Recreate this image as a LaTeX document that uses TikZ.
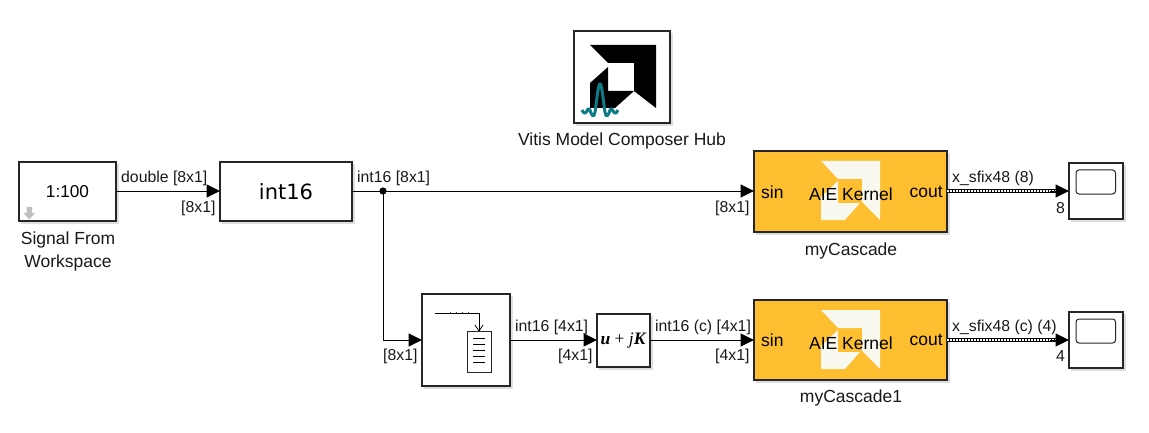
\documentclass[tikz,border=0pt]{standalone}
\usepackage{fontspec}
\setmainfont{Liberation Sans}
\newfontfamily\dejavu{DejaVu Sans}
\newfontfamily\lserif{Liberation Serif}
\usetikzlibrary{arrows.meta,calc}
\definecolor{aieorange}{HTML}{FDBE2F}
\definecolor{aiecream}{HTML}{F8F8EE}
\definecolor{teal1}{HTML}{0E7C86}
\definecolor{shadowgrey}{HTML}{C8C8C8}
\tikzset{
  x=1pt,y=-1pt,
  blockbox/.style={draw=black!85,line width=1.5pt,outer sep=0pt,fill=white,inner sep=0pt,anchor=north west,font=\fontsize{17.2}{19}\selectfont},
  aiebox/.style={blockbox,fill=aieorange},
  lbl/.style={font=\fontsize{15.8}{18}\selectfont,inner sep=0pt,text=black!90},
  biglbl/.style={font=\fontsize{17.5}{23}\selectfont,inner sep=0pt,text=black!90},
  wire/.style={line width=1pt,-{Triangle[length=13.5pt,width=13pt]}},
  busw/.style={line width=3.6pt,black},
  busd/.style={line width=1.4pt,white,dash pattern=on 1.5pt off 1.5pt},
  bustip/.style={-{Triangle[length=13.5pt,width=13pt]},line width=1pt}
}
\newcommand{\shadowrect}[4]{\fill[shadowgrey,opacity=.6] (#1+2,#2+2) rectangle (#3+3,#4+3);}
\newcommand{\aielogo}[2]{%
  \begin{scope}[shift={(#1,#2)}]
    \fill[aiecream] (0,0) -- (59,0) -- (59,59) -- (41,41) -- (41,18) -- (17,18) -- cycle;
    \fill[aiecream] (17,20) -- (17,42) -- (39,42) -- (24,59) -- (0,59) -- (0,36) -- cycle;
  \end{scope}}
\begin{document}
\begin{tikzpicture}
\useasboundingbox (0,0) rectangle (1149,433);
\fill[white] (0,0) rectangle (1149,433);
% shadows
\shadowrect{19}{162}{116}{221}
\shadowrect{220}{162}{352}{221}
\shadowrect{574}{31}{670}{123}
\shadowrect{754}{151}{947}{232}
\shadowrect{754}{300}{947}{380}
\shadowrect{1069}{163}{1123}{219}
\shadowrect{1069}{312}{1123}{368}
\shadowrect{422}{294}{510}{386}
\shadowrect{597}{314}{650}{367}
% blocks
\node[blockbox,minimum width=97pt,minimum height=59pt] (src) at (19,162) {};
\node[font=\fontsize{17.2}{19}\selectfont] (srct) at (67.5,192) {1:100};
\fill[black!25] (26.5,207) -- (32,207) -- (32,213) -- (35,213) -- (29.2,219.5) -- (23.5,213) -- (26.5,213) -- cycle;
\node[blockbox,minimum width=132pt,minimum height=59pt,font=\dejavu\fontsize{21}{23}\selectfont] (conv) at (220,162) {int16};
% hub
\node[blockbox,minimum width=96pt,minimum height=92pt] (hub) at (574,31) {};
\fill[black] (590,45) -- (656,45) -- (656,108) -- (634,91) -- (634,63) -- (608,63) -- cycle;
\fill[black] (608,67) -- (608,91) -- (634,91) -- (615,108) -- (590,108) -- (590,83) -- cycle;
\draw[teal1,line width=3pt,line join=round] (582,110) .. controls (584,114) and (585,114) .. (587,111) .. controls (588,108) and (589,108) .. (590,110) .. controls (592,117) and (594,118) .. (595,112) .. controls (597,100) and (598,84) .. (600,84) .. controls (602,84) and (603,100) .. (605,112) .. controls (606,118) and (608,117) .. (610,110) .. controls (611,108) and (612,108) .. (613,111) .. controls (615,114) and (616,114) .. (618,110);
\node[biglbl] (hubl) at (622,141) {Vitis Model Composer Hub};
% AIE
\node[aiebox,minimum width=193pt,minimum height=81pt] (aie1) at (754,151) {};
\aielogo{821}{161}
\node[font=\fontsize{17.5}{19}\selectfont] (aie1t) at (851,194) {AIE Kernel};
\node[font=\fontsize{17.5}{19}\selectfont,anchor=west,inner sep=0pt] (aie1s) at (761,192) {sin};
\node[font=\fontsize{17.5}{19}\selectfont,anchor=east,inner sep=0pt] (aie1c) at (943,192) {cout};
\node[aiebox,minimum width=193pt,minimum height=80pt] (aie2) at (754,300) {};
\aielogo{821}{310}
\node[font=\fontsize{17.5}{19}\selectfont] (aie2t) at (851,343) {AIE Kernel};
\node[font=\fontsize{17.5}{19}\selectfont,anchor=west,inner sep=0pt] (aie2s) at (761,340) {sin};
\node[font=\fontsize{17.5}{19}\selectfont,anchor=east,inner sep=0pt] (aie2c) at (943,340) {cout};
% scopes
\node[blockbox,minimum width=54pt,minimum height=56pt] (sc1) at (1069,163) {};
\draw[black!85,line width=1pt,rounded corners=3pt] (1076,170) rectangle (1115.5,194);
\node[blockbox,minimum width=54pt,minimum height=56pt] (sc2) at (1069,312) {};
\draw[black!85,line width=1pt,rounded corners=3pt] (1076,319) rectangle (1115.5,343);
% buffer
\node[blockbox,minimum width=88pt,minimum height=92pt] (buf) at (422,294) {};
\draw[black,line width=.8pt] (435,313) -- (479,313) -- (479,331);
\draw[black,line width=.8pt] (475,325) -- (479,331) -- (483,325);
\draw[black!70,line width=.6pt] (450,311.5) -- (450,313) (456,311.5) -- (456,313) (462,311.5) -- (462,313) (468,311.5) -- (468,313);
\draw[black!85,line width=.8pt,fill=white] (467,331) rectangle (491,372);
\foreach \yy in {338,344,350,356,362} \draw[black,line width=.8pt] (473,\yy) -- (485,\yy);
% u+jK
\node[blockbox,minimum width=53pt,minimum height=53pt,font=\lserif\fontsize{17.5}{19}\selectfont] (cplx) at (597,314) {\textbf{\textit{u}} + \textit{j}\textbf{\textit{K}}};
% wires
\coordinate (j) at (383,191);
\draw[wire] (src.east |- j) -- (conv.west |- j);
\draw[wire] (conv.east |- j) -- (aie1.west |- j);
\draw[wire] (j) -- (383,340) -- (buf.west |- 0,340);
\fill[black] (j) circle (3.6pt);
\draw[wire] (buf.east |- 0,340) -- (cplx.west |- 0,340);
\draw[wire] (cplx.east |- 0,340) -- (aie2.west |- 0,340);
\draw[busw] (aie1.east |- j) -- (1057,191);
\draw[busd] (aie1.east |- j) -- (1057,191);
\draw[bustip] (1050,191) -- (sc1.west |- j);
\draw[busw] (aie2.east |- 0,340) -- (1057,340);
\draw[busd] (aie2.east |- 0,340) -- (1057,340);
\draw[bustip] (1050,340) -- (sc2.west |- 0,340);
% labels
\node[lbl,align=center,font=\fontsize{17.5}{23}\selectfont] (srcl) at (68,251) {Signal From\\Workspace};
\node[lbl,anchor=west] (l1) at (121,178.5) {double [8x1]};
\node[lbl,anchor=west] (l2) at (181,208.5) {[8x1]};
\node[lbl,anchor=west] (l3) at (357,178.5) {int16 [8x1]};
\node[lbl,anchor=west] (l4) at (715,208.5) {[8x1]};
\node[lbl,anchor=west] (l5) at (383,356.5) {[8x1]};
\node[lbl,anchor=west] (l6) at (515,327.5) {int16 [4x1]};
\node[lbl,anchor=west] (l7) at (558,356.5) {[4x1]};
\node[lbl,anchor=west] (l8) at (655,327.5) {int16 (c) [4x1]};
\node[lbl,anchor=west] (l9) at (715,356.5) {[4x1]};
\node[lbl,anchor=west] (l10) at (952,178.5) {x\_sfix48 (8)};
\node[lbl,anchor=west] (l11) at (952,327.5) {x\_sfix48 (c) (4)};
\node[lbl,anchor=west] (l12) at (1056,208.5) {8};
\node[lbl,anchor=west] (l13) at (1056,356.5) {4};
\node[biglbl] (n1) at (851,250.5) {myCascade};
\node[biglbl] (n2) at (851,398) {myCascade1};
\end{tikzpicture}
\end{document}
